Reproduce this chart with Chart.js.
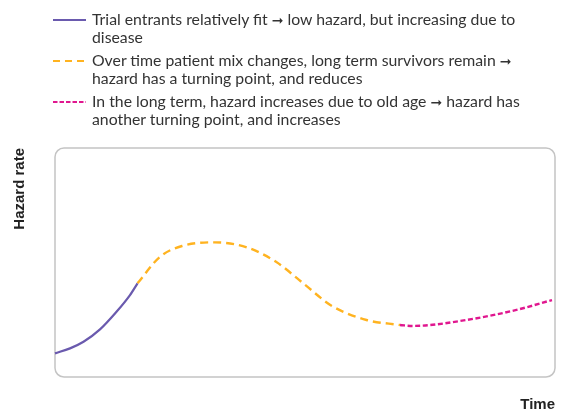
<!DOCTYPE html>
<html>
<head>
<meta charset="utf-8">
<script src="https://cdn.jsdelivr.net/npm/chart.js@4/dist/chart.umd.min.js"></script>
<style>
  html, body { margin: 0; padding: 0; background: #fff; }
  #wrap { position: relative; width: 570px; height: 412px; overflow: hidden; }
  #chart { position: absolute; left: 0; top: 0; }
  #legend { position: absolute; left: 53px; top: 11px; font-family: Lato, "Open Sans", sans-serif; font-size: 15.8px; color: #333; line-height: 16.5px; }
  .item { display: flex; align-items: flex-start; margin-bottom: 7px; }
  .item svg { flex: 0 0 auto; margin-top: 4px; margin-right: 6px; }
  .arr { font-family: "DejaVu Sans", sans-serif; font-size: 14px; }
</style>
</head>
<body>
<div id="wrap">
  <canvas id="chart" width="570" height="412"></canvas>
  <div id="legend"></div>
</div>
<script>
const seriesLabels = [
  "Trial entrants relatively fit <span class='arr'>➞</span> low hazard, but increasing due to<br>disease",
  "Over time patient mix changes, long term survivors remain <span class='arr'>➞</span><br>hazard has a turning point, and reduces",
  "In the long term, hazard increases due to old age <span class='arr'>➞</span> hazard has<br>another turning point, and increases"
];
const axisTitleX = "Time";
const axisTitleY = "Hazard rate";

// Phase 1: early rise (solid purple)
const timeEarly   = [0, 3, 5.7, 9, 12.3, 15, 16.5];
const hazardEarly = [10.3, 12.5, 15.4, 20.8, 28.5, 35.8, 40.9];
// Phase 2: turning point and decline (orange dashed)
const timeMid   = [16.5, 21, 25.4, 31.9, 38.4, 44.2, 49.6, 55.4, 62.3, 69];
const hazardMid = [40.9, 52.5, 57.2, 58.8, 56.6, 50.3, 41.0, 31.0, 24.9, 22.7];
// Phase 3: long-term increase (magenta dotted)
const timeLate   = [69, 71.6, 82.3, 92.3, 99.4];
const hazardLate = [22.7, 22.3, 24.9, 29.3, 33.6];

const colors = ["#6a5aae", "#ffb320", "#e0178f"];
const dashes = [[], [8, 5], [5, 2.6]];

function pts(xs, ys) { return xs.map((x, i) => ({ x: x, y: ys[i] })); }

// HTML legend
const legend = document.getElementById('legend');
seriesLabels.forEach((txt, i) => {
  const d = document.createElement('div');
  d.className = 'item';
  const dash = dashes[i].length ? `stroke-dasharray="${i === 1 ? '7,5' : '4.5,2'}"` : '';
  d.innerHTML = `<svg width="33" height="10"><line x1="0" y1="5" x2="33" y2="5" stroke="${colors[i]}" stroke-width="2" ${dash}/></svg><span>${txt}</span>`;
  legend.appendChild(d);
});

const roundBorder = {
  id: 'roundBorder',
  beforeDatasetsDraw(chart) {
    const { ctx, chartArea: a } = chart;
    ctx.save();
    ctx.strokeStyle = '#c4c4c4';
    ctx.lineWidth = 1.5;
    ctx.beginPath();
    ctx.roundRect(a.left, a.top, a.right - a.left, a.bottom - a.top, 9);
    ctx.stroke();
    ctx.restore();
  }
};

new Chart(document.getElementById('chart'), {
  type: 'line',
  data: {
    datasets: [
      { data: pts(timeEarly, hazardEarly), borderColor: colors[0], borderWidth: 2.2, borderDash: dashes[0] },
      { data: pts(timeMid, hazardMid), borderColor: colors[1], borderWidth: 2.4, borderDash: dashes[1] },
      { data: pts(timeLate, hazardLate), borderColor: colors[2], borderWidth: 2.4, borderDash: dashes[2] }
    ]
  },
  options: {
    responsive: false,
    animation: false,
    layout: { padding: { top: 148, right: 15, left: 0, bottom: 0 } },
    elements: { point: { radius: 0 }, line: { cubicInterpolationMode: 'monotone', fill: false, borderCapStyle: 'butt' } },
    datasets: { line: { clip: false } },
    plugins: { legend: { display: false }, tooltip: { enabled: false } },
    scales: {
      x: {
        type: 'linear', min: 0, max: 100,
        grid: { display: false }, border: { display: false },
        ticks: { display: false },
        title: { display: true, text: axisTitleX, align: 'end', color: '#222',
                 font: { family: '"Liberation Sans", Arial, sans-serif', size: 15, weight: 'bold', lineHeight: 1 },
                 padding: { top: 0, bottom: 0 } },
        afterFit(s) { s.height = 35; }
      },
      y: {
        min: 0, max: 100,
        grid: { display: false }, border: { display: false },
        ticks: { display: false },
        title: { display: true, text: axisTitleY, align: 'end', color: '#222',
                 font: { family: '"Liberation Sans", Arial, sans-serif', size: 15, weight: 'bold', lineHeight: 1 },
                 padding: { top: 12.5, bottom: 0 } },
        afterFit(s) { s.width = 55; }
      }
    }
  },
  plugins: [roundBorder]
});
</script>
</body>
</html>
